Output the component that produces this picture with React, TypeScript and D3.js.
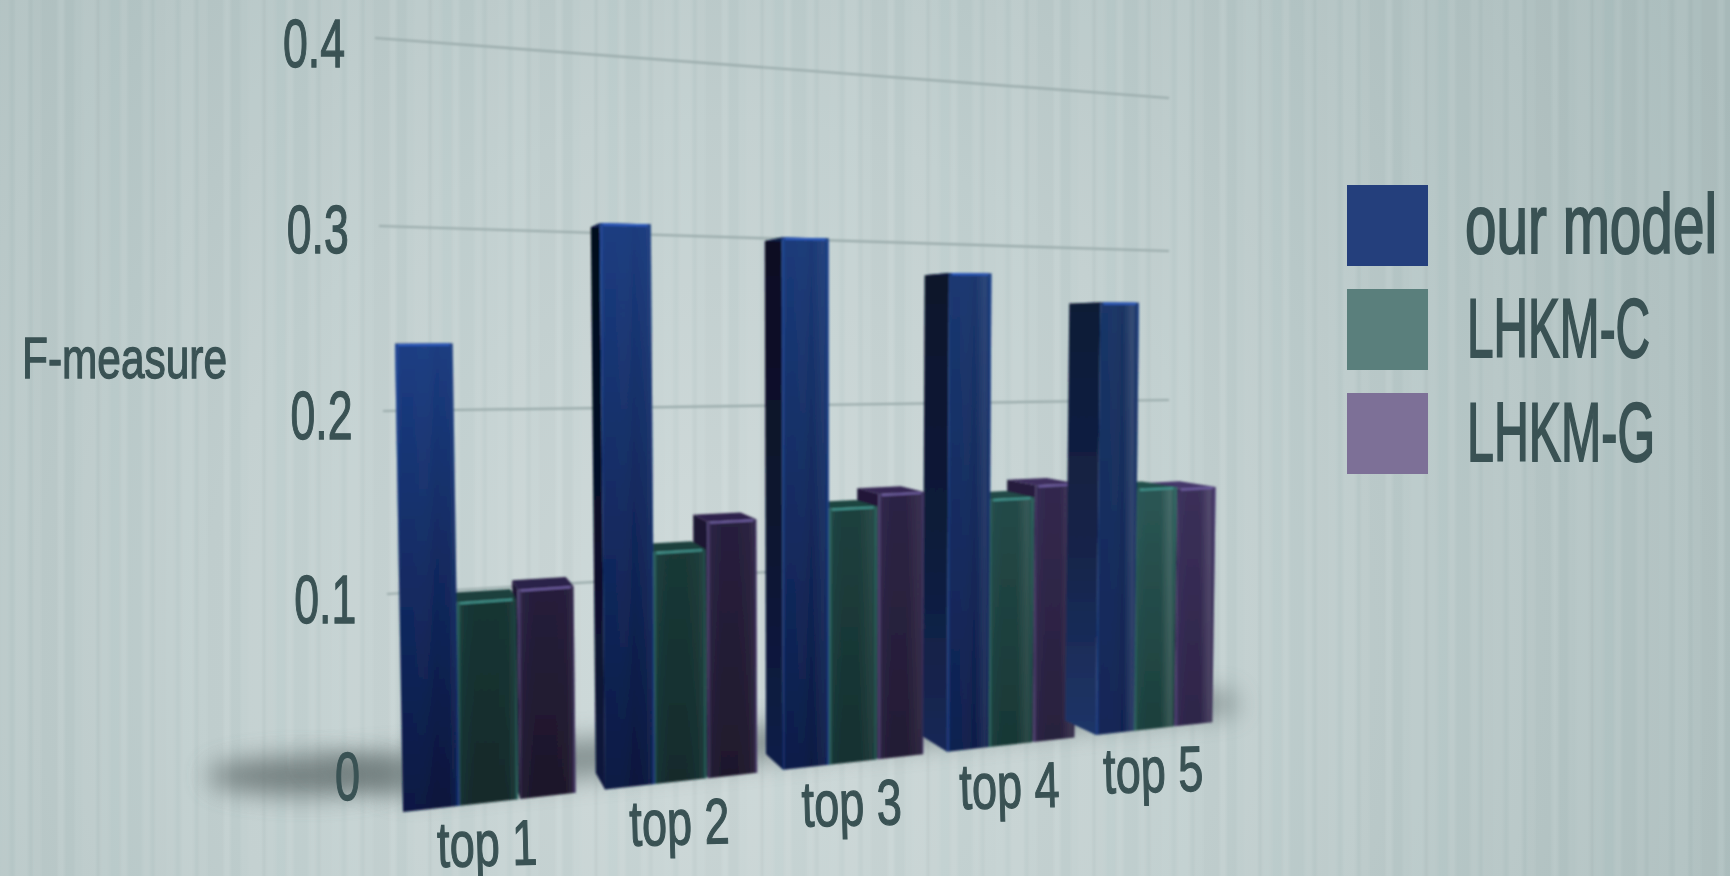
import React from "react";
import * as d3 from "d3";

const categories = ["top 1", "top 2", "top 3", "top 4", "top 5"];
const ourModel = [0.24, 0.304, 0.298, 0.279, 0.262];
const lhkmC = [0.1056, 0.126, 0.145, 0.146, 0.148];
const lhkmG = [0.1102, 0.141, 0.152, 0.153, 0.147];
const yTicks = [0, 0.1, 0.2, 0.3, 0.4];
const gridValues = [0.1, 0.2, 0.3, 0.4];
const seriesNames = ["our model", "LHKM-C", "LHKM-G"];
const seriesValues = [ourModel, lhkmC, lhkmG];
const legendColors = ["#243f7c", "#5a7f7c", "#7d7097"];
const legendWidths = [252, 183, 188];

// hand-read band pattern of the backdrop (width, shade; + lighter, - darker)
const stripeWidths = [9, 6, 13, 5, 8, 17, 6, 11, 7, 14, 4, 9, 12, 6, 16, 7, 5, 11];
const stripeShades = [0.05, -0.04, 0.07, -0.05, 0.03, -0.03, 0.08, -0.05, 0.02, 0.06, -0.06, 0.04, -0.02, 0.07, -0.04, 0.05, -0.05, 0.03];

const W = 1730, H = 876;

// perspective scales of the drawing
const groupX = d3.scaleLinear().domain([0, 1, 2, 3, 4, 5]).range([403, 605, 783, 947, 1096, 1232]);
const baseY = d3.scaleLinear().domain([403, 1214]).range([812, 722]);
const unit = d3.scaleLinear().domain([403, 1214]).range([1950, 1600]);
const lean = d3.scaleLinear().domain([403, 840]).range([-0.017, 0]);
const tickY = d3.scaleLinear().domain([0, 0.1, 0.2, 0.3, 0.4]).range([800, 623, 439, 253, 67]);
const tickRight = d3.scaleLinear().domain([0, 0.4]).range([360, 345]);
const gridLeftX = d3.scaleLinear().domain([0.1, 0.4]).range([387, 375]);
const gridLeftY = d3.scaleLinear().domain([0.1, 0.2, 0.3, 0.4]).range([594, 411, 226, 38]);
const gridRightY = d3.scaleLinear().domain([0.1, 0.2, 0.3, 0.4]).range([549, 400, 251, 98]);
const barSpan: [number, number][] = [[0, 0.28], [0.28, 0.57], [0.58, 0.855]];
const VP = { x: 395, y: 330, tx: 0.044, ty: 0.036 };

type P = [number, number];
const front = (xb: number, v: number): P => {
  const h = unit(xb) * v;
  return [xb + lean(xb) * h, baseY(xb) - h];
};
const back = (p: P): P => [p[0] + VP.tx * (VP.x - p[0]), p[1] + VP.ty * (VP.y - p[1])];
const poly = (pts: P[]) => d3.line()(pts)! + "Z";

const frontTopC = [["#1b3c80", "#193362"], ["#183533", "#2b5654"], ["#261e3b", "#3b3059"]];
const frontBotC = [["#07133a", "#102250"], ["#12292a", "#1c3f3c"], ["#1d1729", "#2e2549"]];
const sideTopC = [["#040919", "#0e1a36"], ["#12302d", "#1b3c3a"], ["#1a1430", "#2c2345"]];
const sideBotC = [["#071238", "#1f3568"], ["#12302d", "#1b3c3a"], ["#1a1430", "#2c2345"]];
const capC = [["#10224f", "#101d3a"], ["#1c3f3c", "#23504c"], ["#2c2148", "#45376a"]];
const rimC = ["#2d5cc0", "#3f9089", "#6a5a9c"];
const edgeC = ["#2c55aa", "#3f8a82", "#6a5a98"];

export default function App() {
  const bars = categories.flatMap((_, g) =>
    [2, 1, 0].map((s) => {
      const v = seriesValues[s][g];
      const pitch = groupX(g + 1) - groupX(g);
      const xl = groupX(g) + pitch * barSpan[s][0];
      const xr = groupX(g) + pitch * barSpan[s][1];
      const bl = front(xl, 0), br = front(xr, 0), tl = front(xl, v), tr = front(xr, v);
      const f = Math.pow(g / 4, 1.6);
      return {
        id: `b${g}-${s}`, s, bl, br, tl, tr,
        bbl: back(bl), btl: back(tl), btr: back(tr),
        fTop: d3.interpolateRgb(frontTopC[s][0], frontTopC[s][1])(f),
        fBot: d3.interpolateRgb(frontBotC[s][0], frontBotC[s][1])(f),
        sTop: d3.interpolateRgb(sideTopC[s][0], sideTopC[s][1])(f),
        sBot: d3.interpolateRgb(sideBotC[s][0], sideBotC[s][1])(f),
        cap: d3.interpolateRgb(capC[s][0], capC[s][1])(f),
        shine: 0.01 + f * 0.12,
      };
    })
  );

  const stripes: { x: number; w: number; c: number }[] = [];
  let sx = 0, si = 0;
  while (sx < W) {
    const w = stripeWidths[si % stripeWidths.length];
    stripes.push({ x: sx, w, c: stripeShades[si % stripeShades.length] });
    sx += w;
    si++;
  }

  const font = "'Liberation Sans Narrow','Liberation Sans','DejaVu Sans Condensed',sans-serif";
  const ink = "#3a5254";

  return (
    <svg width={W} height={H} viewBox={`0 0 ${W} ${H}`} style={{ position: "fixed", left: 0, top: 0, display: "block" }} fontFamily={font}>
      <defs>
        <radialGradient id="bg" gradientUnits="userSpaceOnUse" cx={720} cy={640} r={1150}>
          <stop offset="0" stopColor="#ced9d9" />
          <stop offset="0.45" stopColor="#c1cfcf" />
          <stop offset="1" stopColor="#aabcbc" />
        </radialGradient>
        <filter id="soft" x="-5%" y="-5%" width="110%" height="110%"><feGaussianBlur stdDeviation="1.2" /></filter>
        <filter id="shadow" x="-30%" y="-80%" width="160%" height="260%"><feGaussianBlur stdDeviation="13" /></filter>
        <filter id="lineBlur" x="-5%" y="-200%" width="110%" height="500%"><feGaussianBlur stdDeviation="0.8" /></filter>
        <filter id="barBlur" x="-5%" y="-5%" width="110%" height="110%"><feGaussianBlur stdDeviation="0.9" /></filter>
        {bars.map((b) => (
          <React.Fragment key={b.id}>
            <linearGradient id={`f${b.id}`} x1="0" y1="0" x2="0" y2="1">
              <stop offset="0" stopColor={b.fTop} />
              <stop offset="1" stopColor={b.fBot} />
            </linearGradient>
            <linearGradient id={`s${b.id}`} x1="0" y1="0" x2="0" y2="1">
              <stop offset="0" stopColor={b.sTop} />
              <stop offset="0.55" stopColor={d3.interpolateRgb(b.sTop, b.sBot)(0.35)} />
              <stop offset="1" stopColor={b.sBot} />
            </linearGradient>
            <linearGradient id={`h${b.id}`} x1="0" y1="0" x2="1" y2="0">
              <stop offset="0" stopColor={edgeC[b.s]} stopOpacity={0.7} />
              <stop offset="0.08" stopColor={edgeC[b.s]} stopOpacity={0.08} />
              <stop offset="0.3" stopColor="#2c55aa" stopOpacity={b.s === 0 ? 0.08 : 0} />
              <stop offset="0.62" stopColor="#ffffff" stopOpacity={0} />
              <stop offset="0.85" stopColor="#ffffff" stopOpacity={b.shine} />
              <stop offset="0.94" stopColor={edgeC[b.s]} stopOpacity={0.12} />
              <stop offset="1" stopColor={edgeC[b.s]} stopOpacity={0.75} />
            </linearGradient>
          </React.Fragment>
        ))}
      </defs>

      <rect width={W} height={H} fill="url(#bg)" />
      <g filter="url(#soft)">
        {stripes.map((s, i) => (
          <rect key={i} x={s.x} y={-10} width={s.w} height={H + 20} fill={s.c > 0 ? "#ffffff" : "#5f7373"} opacity={Math.abs(s.c) * 0.8} />
        ))}
      </g>

      {gridValues.map((v) => (
        <line key={v} x1={gridLeftX(v)} y1={gridLeftY(v)} x2={1169} y2={gridRightY(v)} stroke="#9aabab" strokeWidth={2.2} filter="url(#lineBlur)" />
      ))}

      <ellipse cx={305} cy={776} rx={98} ry={19} fill="#5e6b6b" opacity={0.8} filter="url(#shadow)" />
      <path d={poly([[300, 760], [1232, 692], [1238, 712], [403, 796]])} fill="#667373" opacity={0.7} filter="url(#shadow)" />

      <g filter="url(#barBlur)">
        {bars.map((b) => (
          <g key={b.id}>
            <path d={poly([b.tl, b.btl, b.bbl, b.bl])} fill={`url(#s${b.id})`} />
            <path d={poly([b.tl, b.btl, b.btr, b.tr])} fill={b.cap} />
            <path d={poly([b.tl, b.tr, b.br, b.bl])} fill={`url(#f${b.id})`} />
            <path d={poly([b.tl, b.tr, b.br, b.bl])} fill={`url(#h${b.id})`} />
            <line x1={b.tl[0] + 3} y1={b.tl[1] + 1} x2={b.tr[0] - 3} y2={b.tr[1] + 1} stroke={rimC[b.s]} strokeWidth={2.2} />
          </g>
        ))}
      </g>

      <g fill={ink} stroke={ink} strokeWidth={1.3}>
        {yTicks.map((v) => {
          const label = v === 0 ? "0" : v.toFixed(1);
          return (
            <text key={v} x={tickRight(v)} y={tickY(v)} textAnchor="end" fontSize={68} textLength={v === 0 ? 25 : 62} lengthAdjust="spacingAndGlyphs">{label}</text>
          );
        })}
        <text x={22} y={378} fontSize={58} textLength={205} lengthAdjust="spacingAndGlyphs">F-measure</text>
        {categories.map((c, g) => {
          const pitch = groupX(g + 1) - groupX(g);
          const cx = groupX(g) + pitch * 0.41;
          const by = baseY(cx) + 63;
          return (
            <text key={c} x={cx + 2} y={by} textAnchor="middle" fontSize={64} textLength={100} lengthAdjust="spacingAndGlyphs" transform={`rotate(-1.5 ${cx} ${by})`}>{c}</text>
          );
        })}
        {seriesNames.map((n, i) => (
          <g key={n}>
            <rect x={1347} y={185 + i * 104} width={81} height={81} fill={legendColors[i]} stroke="none" />
            <text x={i === 0 ? 1465 : 1467} y={253 + i * 104} fontSize={84} strokeWidth={2} textLength={legendWidths[i]} lengthAdjust="spacingAndGlyphs">{n}</text>
          </g>
        ))}
      </g>
    </svg>
  );
}
